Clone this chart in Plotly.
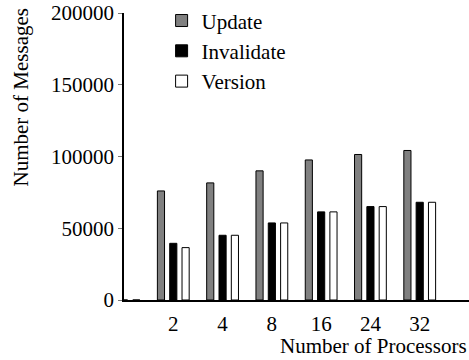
import plotly.graph_objects as go

categories = ["", "2", "4", "8", "16", "24", "32"]
update = [0, 76000, 81600, 90000, 97600, 101400, 104200]
invalidate = [0, 39500, 45100, 53700, 61400, 65100, 68100]
version = [0, 36500, 45100, 53700, 61400, 65100, 68100]
y_ticks = [0, 50000, 100000, 150000, 200000]

FONT = "Liberation Serif"

fig = go.Figure()
fig.add_trace(go.Bar(x=categories, y=update, name="Update",
                     marker=dict(color="#808080", line=dict(color="black", width=1))))
fig.add_trace(go.Bar(x=categories, y=invalidate, name="Invalidate",
                     marker=dict(color="black", line=dict(color="black", width=1))))
fig.add_trace(go.Bar(x=categories, y=version, name="Version",
                     marker=dict(color="white", line=dict(color="black", width=1))))

fig.update_layout(
    width=469, height=360,
    margin=dict(l=124, r=0, t=13, b=59.5, autoexpand=False),
    paper_bgcolor="white", plot_bgcolor="white",
    font=dict(family=FONT, size=21, color="black"),
    barmode="group", bargap=0.25, bargroupgap=0.42,
    showlegend=True,
    legend=dict(x=0.109, y=1.044, xanchor="left", yanchor="top",
                bgcolor="rgba(0,0,0,0)", font=dict(family=FONT, size=21), tracegroupgap=0,
                itemwidth=30),
    xaxis=dict(type="category", range=[0, 7], showline=True, linecolor="black",
               linewidth=1.5, ticks="", showgrid=False, zeroline=False,
               tickfont=dict(family=FONT, size=21), ticklabelstandoff=4),
    yaxis=dict(range=[0, 200000], tickvals=y_ticks, ticktext=[str(v) for v in y_ticks],
               showline=True, linecolor="black", linewidth=1.5, ticks="outside",
               ticklen=4, tickcolor="#777", showgrid=False, zeroline=False,
               tickfont=dict(family=FONT, size=21), ticklabelstandoff=0),
    annotations=[
        dict(text="Number of Messages", textangle=-90, xref="paper", yref="paper",
             x=-0.30, y=0.704, xanchor="center", yanchor="middle", showarrow=False,
             font=dict(family=FONT, size=21)),
        dict(text="Number of Processors", xref="paper", yref="paper",
             x=1.0, y=-0.16, xanchor="right", yanchor="middle", showarrow=False,
             font=dict(family=FONT, size=21)),
    ],
)

fig.write_html("out.html", config={"displayModeBar": False},
               post_script="document.body.style.margin='0';")
